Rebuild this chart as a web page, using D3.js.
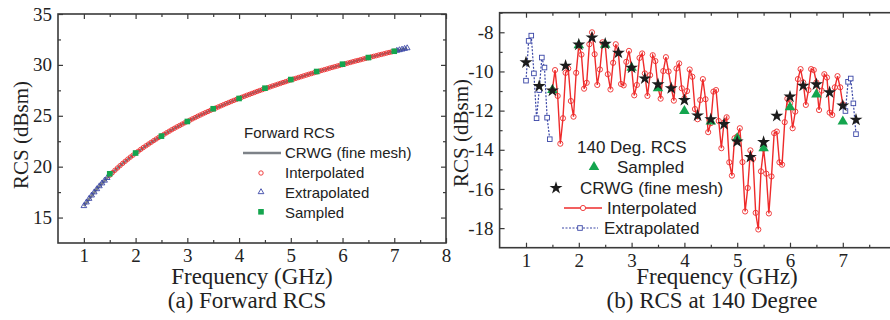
<!DOCTYPE html>
<html><head><meta charset="utf-8">
<script src="https://cdn.jsdelivr.net/npm/d3@7"></script>
<style>body{margin:0;background:#fff}svg{display:block}</style>
</head><body>
<svg id="c" width="890" height="320"></svg>
<script>
// ---------- Panel (a) data ----------
const aInterpFreq = d3.range(111).map(i => +(1.5 + i * 0.05).toFixed(2));
const aInterpRCS = [19.16,19.40,19.64,19.87,20.10,20.32,20.53,20.74,20.94,21.13,
 21.33,21.51,21.70,21.88,22.05,22.22,22.39,22.56,22.72,22.88,
 23.03,23.18,23.33,23.48,23.63,23.77,23.91,24.04,24.18,24.31,
 24.44,24.57,24.70,24.82,24.95,25.07,25.19,25.31,25.42,25.54,
 25.65,25.76,25.87,25.98,26.09,26.20,26.30,26.41,26.51,26.61,
 26.71,26.81,26.91,27.01,27.10,27.20,27.29,27.39,27.48,27.57,
 27.66,27.75,27.84,27.93,28.01,28.10,28.18,28.27,28.35,28.44,
 28.52,28.60,28.68,28.76,28.84,28.92,29.00,29.08,29.15,29.23,
 29.31,29.38,29.46,29.53,29.60,29.68,29.75,29.82,29.89,29.96,
 30.03,30.10,30.17,30.24,30.31,30.38,30.44,30.51,30.58,30.64,
 30.71,30.77,30.84,30.90,30.97,31.03,31.09,31.16,31.22,31.28,31.34];
const aExtrapFreq = [1.00,1.05,1.10,1.15,1.20,1.25,1.30,1.35,1.40,1.45,7.05,7.10,7.15,7.20,7.25];
const aExtrapRCS  = [16.14,16.50,16.85,17.18,17.49,17.80,18.09,18.37,18.64,18.90,31.40,31.46,31.52,31.59,31.65];
const aSampledFreq = [1.5,2,2.5,3,3.5,4,4.5,5,5.5,6,6.5,7];
const aSampledRCS  = [19.3,21.34,23.0,24.44,25.69,26.7,27.71,28.56,29.35,30.07,30.72,31.34];
const aCrwgFreq = [1,1.25,1.5,1.75,2,2.25,2.5,2.75,3,3.25,3.5,3.75,4,4.25,4.5,4.75,5,5.25,5.5,5.75,6,6.25,6.5,6.75,7,7.25];
const aCrwgRCS  = [16.14,17.80,19.16,20.32,21.33,22.22,23.03,23.77,24.44,25.07,25.65,26.20,26.71,27.20,27.66,28.10,28.52,28.92,29.31,29.68,30.03,30.38,30.71,31.03,31.34,31.65];
const aXTicks = [1,2,3,4,5,6,7,8];
const aYTicks = [15,20,25,30,35];

// ---------- Panel (b) data ----------
const bInterpFreq = d3.range(111).map(i => +(1.5 + i * 0.05).toFixed(2));
const bInterpRCS = [-10.92,-9.93,-11.25,-13.69,-12.39,-10.07,-9.85,-11.51,-12.31,-10.07,
 -8.66,-9.14,-10.88,-10.58,-8.61,-8.00,-9.12,-10.69,-9.90,-8.51,
 -8.63,-10.14,-10.92,-9.56,-8.61,-9.05,-10.64,-10.71,-9.51,-8.95,
 -9.81,-11.22,-10.69,-9.31,-9.08,-10.10,-11.25,-10.19,-9.17,-9.47,
 -10.81,-11.39,-9.98,-9.27,-10.00,-10.81,-11.49,-9.85,-9.59,-10.86,
 -11.37,-11.00,-9.90,-10.27,-11.92,-12.44,-11.46,-10.39,-11.42,-13.10,
 -12.64,-11.03,-10.95,-12.53,-13.92,-12.61,-12.34,-14.64,-15.32,-13.41,
 -13.32,-12.90,-14.63,-17.15,-15.95,-14.03,-14.46,-17.22,-18.07,-15.10,
 -13.95,-15.22,-17.25,-15.36,-13.15,-13.07,-14.64,-14.76,-12.59,-11.39,
 -11.63,-12.90,-12.05,-10.39,-9.88,-10.56,-11.71,-10.95,-9.88,-9.93,
 -10.56,-11.97,-10.98,-10.14,-10.31,-12.10,-12.22,-10.81,-10.24,-10.81,-11.68];
const bExtrapLowFreq = [1.00,1.05,1.10,1.15,1.20,1.25,1.30,1.35,1.40,1.45];
const bExtrapLowRCS  = [-10.47,-8.44,-8.17,-10.10,-12.39,-10.95,-9.29,-9.80,-12.36,-13.46];
const bExtrapHighFreq = [7.05,7.10,7.15,7.20,7.25];
const bExtrapHighRCS  = [-12.02,-10.53,-10.36,-11.63,-13.20];
const bSampledFreq = [1.5,2,2.5,3,3.5,4,4.5,5,5.5,6,6.5,7];
const bSampledRCS  = [-10.95,-8.66,-8.63,-9.81,-10.86,-12.02,-12.56,-13.41,-13.92,-11.83,-11.17,-12.56];
const bCrwgFreq = [1,1.25,1.5,1.75,2,2.25,2.5,2.75,3,3.25,3.5,3.75,4,4.25,4.5,4.75,5,5.25,5.5,5.75,6,6.25,6.5,6.75,7,7.25];
const bCrwgRCS  = [-9.54,-10.75,-10.98,-9.71,-8.63,-8.27,-8.59,-9.05,-9.81,-10.36,-10.66,-10.86,-11.46,-12.25,-12.44,-12.69,-13.58,-14.37,-13.61,-12.27,-11.29,-10.73,-10.66,-11.07,-11.75,-12.47];
const bXTicks = [1,2,3,4,5,6,7,8];
const bYTicks = [-18,-16,-14,-12,-10,-8];

const RED = "#ee2b2b", BLUE = "#3a46a6", GREEN = "#14a54e", STAR = "#1c1c1c", GRAY = "#7d8288", AXC = "#3a3a3a";
const SERIF = "'Liberation Serif','Times New Roman',serif";
const SANS = "'Liberation Sans',Arial,sans-serif";

const svg = d3.select("#c");
const zip = (f, v) => f.map((d, i) => [d, v[i]]);

function frame(g, x, y, xMaj, xMin, yMaj, yMin, yFmt) {
  const [x0, x1] = x.range(), [y0, y1] = y.range();
  const mk = (axis, tr, vals, size, labels) => {
    const a = g.append("g").attr("transform", tr)
      .call(axis.tickValues(vals).tickSize(size).tickPadding(labels ? 6 : 0)
        .tickFormat(labels ? labels : () => ""));
    a.select(".domain").remove();
    a.selectAll("line").attr("stroke", AXC).attr("stroke-width", 1.2);
    a.selectAll("text").attr("fill", "#222").style("font-family", SERIF).style("font-size", "19px");
    return a;
  };
  mk(d3.axisBottom(x), `translate(0,${y0})`, xMaj, -5, d => String(d));
  mk(d3.axisBottom(x), `translate(0,${y0})`, xMin, -3, null);
  mk(d3.axisTop(x), `translate(0,${y1})`, xMaj, -5, null);
  mk(d3.axisTop(x), `translate(0,${y1})`, xMin, -3, null);
  mk(d3.axisLeft(y), `translate(${x0},0)`, yMaj, -5, yFmt);
  mk(d3.axisLeft(y), `translate(${x0},0)`, yMin, -3, null);
  mk(d3.axisRight(y), `translate(${x1},0)`, yMaj, -5, null);
  mk(d3.axisRight(y), `translate(${x1},0)`, yMin, -3, null);
  g.append("rect").attr("x", x0).attr("y", y1).attr("width", x1 - x0).attr("height", y0 - y1)
    .attr("fill", "none").attr("stroke", AXC).attr("stroke-width", 1.6);
}

// ================= Panel (a) =================
{
  const x = d3.scaleLinear().domain([0.5, 8]).range([58, 446]);
  const y = d3.scaleLinear().domain([12.5, 35]).range([243, 14]);
  const g = svg.append("g");
  const line = d3.line().x(d => x(d[0])).y(d => y(d[1]));
  g.append("path").datum(zip(aCrwgFreq, aCrwgRCS)).attr("d", line)
    .attr("fill", "none").attr("stroke", GRAY).attr("stroke-width", 2.5);
  g.append("g").selectAll("circle").data(zip(aInterpFreq, aInterpRCS)).join("circle")
    .attr("cx", d => x(d[0])).attr("cy", d => y(d[1])).attr("r", 2.2)
    .attr("fill", "none").attr("stroke", RED).attr("stroke-width", 0.9);
  const tri = d3.symbol(d3.symbolTriangle, 14)();
  g.append("g").selectAll("path").data(zip(aExtrapFreq, aExtrapRCS)).join("path")
    .attr("d", tri).attr("transform", d => `translate(${x(d[0])},${y(d[1])})`)
    .attr("fill", "none").attr("stroke", BLUE).attr("stroke-width", 0.9);
  g.append("g").selectAll("rect").data(zip(aSampledFreq, aSampledRCS)).join("rect")
    .attr("x", d => x(d[0]) - 2.8).attr("y", d => y(d[1]) - 2.8).attr("width", 5.6).attr("height", 5.6)
    .attr("fill", GREEN);
  frame(g, x, y, aXTicks, d3.range(1.5, 8, 1), aYTicks, [17.5, 22.5, 27.5, 32.5], d => String(d));

  // legend
  const L = g.append("g").style("font-family", SANS).style("font-size", "15px").attr("fill", "#222");
  L.append("text").attr("x", 244).attr("y", 138).text("Forward RCS");
  L.append("line").attr("x1", 243).attr("x2", 281).attr("y1", 153).attr("y2", 153)
    .attr("stroke", GRAY).attr("stroke-width", 2.5);
  L.append("text").attr("x", 285).attr("y", 158).text("CRWG (fine mesh)");
  L.append("circle").attr("cx", 261).attr("cy", 173).attr("r", 2.2).attr("fill", "none").attr("stroke", RED).attr("stroke-width", 0.9);
  L.append("text").attr("x", 285).attr("y", 178).text("Interpolated");
  L.append("path").attr("d", tri).attr("transform", "translate(261,192)").attr("fill", "none").attr("stroke", BLUE).attr("stroke-width", 0.9);
  L.append("text").attr("x", 285).attr("y", 198).text("Extrapolated");
  L.append("rect").attr("x", 258.2).attr("y", 209).attr("width", 5.6).attr("height", 5.6).attr("fill", GREEN);
  L.append("text").attr("x", 285).attr("y", 218).text("Sampled");

  g.append("text").attr("x", 252).attr("y", 284).attr("text-anchor", "middle")
    .style("font-family", SERIF).style("font-size", "23px").attr("fill", "#222").text("Frequency (GHz)");
  g.append("text").attr("x", 247).attr("y", 308).attr("text-anchor", "middle")
    .style("font-family", SERIF).style("font-size", "23px").attr("fill", "#222").text("(a) Forward RCS");
  g.append("text").attr("transform", "translate(28,135) rotate(-90)").attr("text-anchor", "middle")
    .style("font-family", SERIF).style("font-size", "21px").attr("fill", "#222").text("RCS (dBsm)");
}

// ================= Panel (b) =================
{
  const x = d3.scaleLinear().domain([0.5, 8]).range([499.6, 895.6]);
  const y = d3.scaleLinear().domain([-19, -7]).range([247.7, 12.7]);
  const g = svg.append("g");
  const line = d3.line().x(d => x(d[0])).y(d => y(d[1]));

  // extrapolated (blue dotted + open squares)
  [zip(bExtrapLowFreq, bExtrapLowRCS), zip(bExtrapHighFreq, bExtrapHighRCS)].forEach(seg => {
    g.append("path").datum(seg).attr("d", line).attr("fill", "none")
      .attr("stroke", BLUE).attr("stroke-width", 1.2).attr("stroke-dasharray", "2,1.5");
    g.append("g").selectAll("rect").data(seg).join("rect")
      .attr("x", d => x(d[0]) - 2.3).attr("y", d => y(d[1]) - 2.3).attr("width", 4.6).attr("height", 4.6)
      .attr("fill", "#fff").attr("stroke", BLUE).attr("stroke-width", 0.9);
  });
  // interpolated (red line + open circles)
  const interp = zip(bInterpFreq, bInterpRCS);
  g.append("path").datum(interp).attr("d", line).attr("fill", "none").attr("stroke", RED).attr("stroke-width", 1.4);
  g.append("g").selectAll("circle").data(interp).join("circle")
    .attr("cx", d => x(d[0])).attr("cy", d => y(d[1])).attr("r", 2.6)
    .attr("fill", "none").attr("stroke", RED).attr("stroke-width", 0.9);
  // sampled
  const triB = d3.symbol(d3.symbolTriangle, 48)();
  g.append("g").selectAll("path").data(zip(bSampledFreq, bSampledRCS)).join("path")
    .attr("d", triB).attr("transform", d => `translate(${x(d[0])},${y(d[1])})`).attr("fill", GREEN);
  // CRWG stars
  const star = d3.symbol(d3.symbolStar, 52)();
  g.append("g").selectAll("path").data(zip(bCrwgFreq, bCrwgRCS)).join("path")
    .attr("d", star).attr("transform", d => `translate(${x(d[0])},${y(d[1])})`).attr("fill", STAR);

  frame(g, x, y, bXTicks, d3.range(1.5, 8, 1), bYTicks, [-17, -15, -13, -11, -9, -7], d => String(d));

  // legend
  const L = g.append("g").style("font-family", SANS).style("font-size", "17px").attr("fill", "#222");
  L.append("text").attr("x", 577).attr("y", 153).text("140 Deg. RCS");
  L.append("path").attr("d", triB).attr("transform", "translate(594,167)").attr("fill", GREEN);
  L.append("text").attr("x", 617).attr("y", 173).text("Sampled");
  L.append("path").attr("d", star).attr("transform", "translate(556,188)").attr("fill", STAR);
  L.append("text").attr("x", 580).attr("y", 194).text("CRWG (fine mesh)");
  L.append("line").attr("x1", 564).attr("x2", 602).attr("y1", 208).attr("y2", 208).attr("stroke", RED).attr("stroke-width", 1.4);
  L.append("circle").attr("cx", 583).attr("cy", 208).attr("r", 2.6).attr("fill", "#fff").attr("stroke", RED).attr("stroke-width", 0.9);
  L.append("text").attr("x", 607).attr("y", 214).text("Interpolated");
  L.append("line").attr("x1", 562).attr("x2", 598).attr("y1", 228).attr("y2", 228).attr("stroke", BLUE)
    .attr("stroke-width", 1.2).attr("stroke-dasharray", "2,1.5");
  L.append("rect").attr("x", 577.7).attr("y", 225.7).attr("width", 4.6).attr("height", 4.6).attr("fill", "#fff").attr("stroke", BLUE).attr("stroke-width", 0.9);
  L.append("text").attr("x", 604).attr("y", 234).text("Extrapolated");

  g.append("text").attr("x", 717).attr("y", 284).attr("text-anchor", "middle")
    .style("font-family", SERIF).style("font-size", "23px").attr("fill", "#222").text("Frequency (GHz)");
  g.append("text").attr("x", 712).attr("y", 308).attr("text-anchor", "middle")
    .style("font-family", SERIF).style("font-size", "23px").attr("fill", "#222").text("(b) RCS at 140 Degree");
  g.append("text").attr("transform", "translate(468,133) rotate(-90)").attr("text-anchor", "middle")
    .style("font-family", SERIF).style("font-size", "21px").attr("fill", "#222").text("RCS (dBsm)");
}
</script>
</body></html>
